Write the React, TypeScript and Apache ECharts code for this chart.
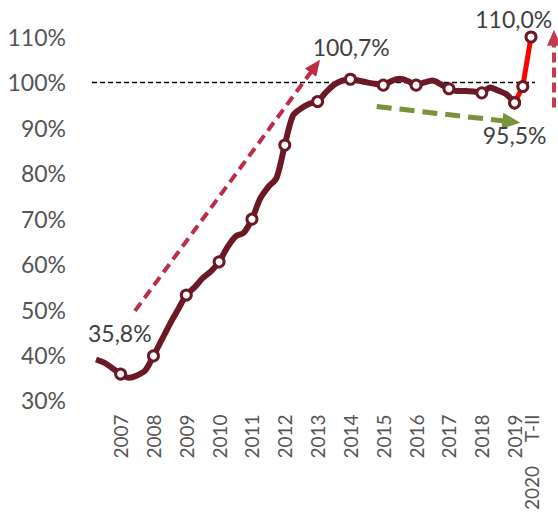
import React, { useEffect, useRef } from 'react';
import * as echarts from 'echarts';

const years = [2007, 2008, 2009, 2010, 2011, 2012, 2013, 2014, 2015, 2016, 2017, 2018, 2019, 2020];
const quarterNames = ['I', 'II', 'III', 'IV'];
const quarterCount = 54; // 2007 T-I .. 2020 T-II
const categories: string[] = [];
years.forEach((y) => quarterNames.forEach((q) => categories.push(`${y} T-${q}`)));
categories.length = quarterCount;
const lastLabel = '2020\u00A0\u00A0\u00A0\u00A0\u00A0T-II';

// quarterly ratio (%) 2007 T-I .. 2019 T-IV
const debtRatio = [
  39.0, 38.3, 37.1, 35.8,
  35.0, 35.5, 36.6, 39.8,
  43.3, 46.8, 50.0, 53.2,
  54.9, 56.9, 58.4, 60.5,
  63.7, 66.1, 66.9, 69.9,
  74.4, 77.0, 79.0, 86.2,
  92.7, 94.3, 95.3, 95.8,
  97.8, 99.5, 100.4, 100.7,
  100.4, 100.0, 99.7, 99.4,
  100.3, 100.8, 100.3, 99.4,
  100.0, 100.4, 99.6, 98.6,
  98.1, 98.1, 98.0, 97.7,
  98.9, 98.2, 97.4, 95.5,
];
// 2019 T-IV, 2020 T-I, 2020 T-II
const latestRatio = [95.5, 99.1, 110.0];
const latestStart = 51;

const yMin = 30;
const yMax = 110;
const yInterval = 10;
const referenceLevel = 100;

const labelTexts = [
  { text: '35,8%', at: [2.9, 44.9] },
  { text: '100,7%', at: [31.1, 107.8] },
  { text: '110,0%', at: [50.9, 113.9] },
  { text: '95,5%', at: [51.0, 88.4] },
];

const arrows = [
  { from: [4.75, 49.7], to: [27.3, 105.0], color: '#BE2B45', width: 4, dash: [10, 6], head: [16, 7] },
  { from: [34.2, 94.7], to: [51.7, 91.1], color: '#77933C', width: 5, dash: [15, 8], head: [18, 8] },
  { from: [55.8, 94.5], to: [55.8, 111.6], color: '#C23B51', width: 4, dash: [10, 5], head: [16, 7] },
];

const DARK = '#6B1A25';
const FONT = 'Lato, "Open Sans", sans-serif';

export default function App() {
  const ref = useRef<HTMLDivElement>(null);
  useEffect(() => {
    if (!ref.current) return;
    const chart = echarts.init(ref.current, undefined, { renderer: 'svg' });
    const markerStyle = { color: '#fff', borderColor: DARK, borderWidth: 3 };
    const darkData = debtRatio.map((v, i) =>
      i % 4 === 3 ? { value: v } : { value: v, symbol: 'none' }
    );
    const redData: any[] = categories.map(() => null);
    latestRatio.forEach((v, k) => (redData[latestStart + k] = v));

    const baseXAxis = {
      type: 'category',
      data: categories,
      boundaryGap: false,
      axisLine: { show: false },
      axisTick: { show: false },
      splitLine: { show: false },
    };
    const xLabelStyle = {
      rotate: 90,
      margin: 14,
      hideOverlap: false,
      color: '#555555',
      fontSize: 19,
      fontFamily: FONT,
    };

    chart.setOption({
      animation: false,
      grid: { left: 96, right: 27, top: 37, bottom: 110 },
      xAxis: [
        {
          ...baseXAxis,
          axisLabel: {
            ...xLabelStyle,
            interval: (index: number) => index % 4 === 3,
            formatter: (value: string) => value.slice(0, 4),
          },
        },
        {
          ...baseXAxis,
          position: 'bottom',
          axisLabel: {
            ...xLabelStyle,
            showMinLabel: false,
            showMaxLabel: true,
            interval: (index: number) => index === quarterCount - 1,
            formatter: (value: string, index: number) =>
              index === quarterCount - 1 ? lastLabel : '',
          },
        },
      ],
      yAxis: {
        type: 'value',
        min: yMin,
        max: yMax,
        interval: yInterval,
        axisLine: { show: false },
        axisTick: { show: false },
        splitLine: { show: false },
        axisLabel: {
          formatter: '{value}%',
          margin: 30,
          color: '#555555',
          fontSize: 23,
          fontFamily: FONT,
        },
      },
      series: [
        {
          type: 'line',
          z: 3,
          data: redData,
          symbol: 'circle',
          symbolSize: 10,
          showSymbol: true,
          showAllSymbol: true,
          connectNulls: false,
          lineStyle: { color: '#FF0000', width: 5 },
          itemStyle: markerStyle,
          emphasis: { disabled: true },
        },
        {
          type: 'line',
          z: 4,
          data: darkData,
          smooth: 0.3,
          symbol: 'circle',
          symbolSize: 10,
          showSymbol: true,
          showAllSymbol: true,
          lineStyle: { color: DARK, width: 6 },
          itemStyle: markerStyle,
          emphasis: { disabled: true },
        },
      ],
    });

    const x0 = chart.convertToPixel({ xAxisIndex: 0 }, categories[0]) as number;
    const x1 = chart.convertToPixel({ xAxisIndex: 0 }, categories[quarterCount - 1]) as number;
    const px = (i: number) => x0 + ((x1 - x0) * i) / (quarterCount - 1);
    const py = (v: number) => chart.convertToPixel({ yAxisIndex: 0 }, v) as number;

    const graphics: any[] = [];
    const yRef = py(referenceLevel);
    graphics.push({
      type: 'line',
      z: 1,
      shape: { x1: x0 - 4, y1: yRef, x2: x1 + 4, y2: yRef },
      style: { stroke: '#000', lineWidth: 1.5, lineDash: [5, 3] },
    });
    arrows.forEach((a) => {
      const sx = px(a.from[0]);
      const sy = py(a.from[1]);
      const tx = px(a.to[0]);
      const ty = py(a.to[1]);
      const len = Math.hypot(tx - sx, ty - sy);
      const dx = (tx - sx) / len;
      const dy = (ty - sy) / len;
      const [L, W] = a.head;
      const bx = tx - dx * L;
      const by = ty - dy * L;
      graphics.push({
        type: 'line',
        z: 1,
        shape: { x1: sx, y1: sy, x2: bx + dx * 2, y2: by + dy * 2 },
        style: { stroke: a.color, lineWidth: a.width, lineDash: a.dash },
      });
      graphics.push({
        type: 'polygon',
        z: 1,
        shape: {
          points: [
            [tx, ty],
            [bx - dy * W, by + dx * W],
            [bx + dy * W, by - dx * W],
          ],
        },
        style: { fill: a.color },
      });
    });
    labelTexts.forEach((l) => {
      graphics.push({
        type: 'text',
        z: 6,
        x: px(l.at[0]),
        y: py(l.at[1]),
        style: {
          text: l.text,
          fill: '#404040',
          fontSize: 23,
          fontFamily: FONT,
          align: 'center',
          verticalAlign: 'middle',
        },
      });
    });
    chart.setOption({ graphic: graphics });

    return () => chart.dispose();
  }, []);
  return (
    <div
      ref={ref}
      style={{ position: 'fixed', left: 0, top: 0, width: 558, height: 513, background: '#fff' }}
    />
  );
}
